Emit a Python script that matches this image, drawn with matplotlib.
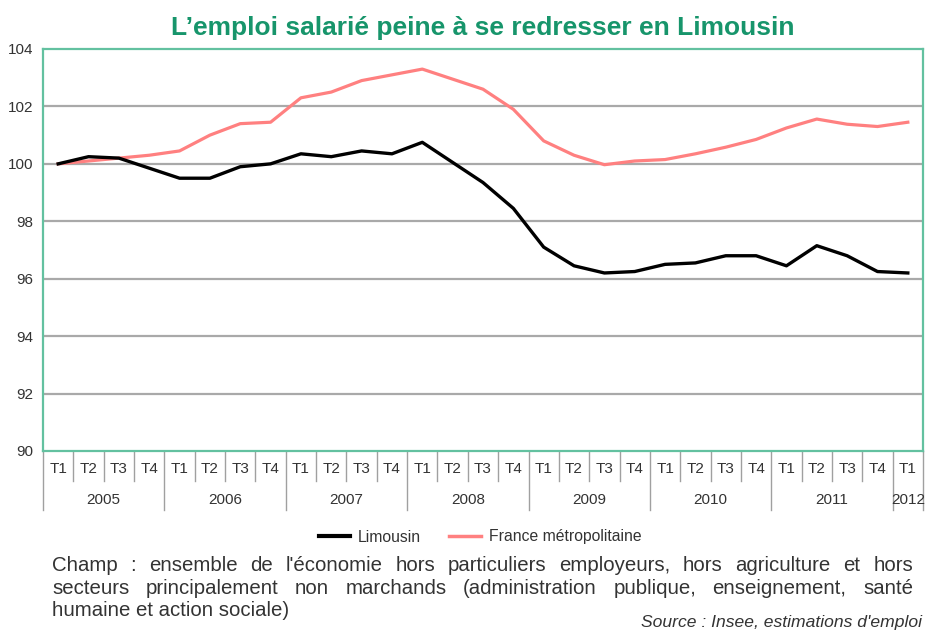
import matplotlib
matplotlib.use("Agg")
import matplotlib.pyplot as plt
from matplotlib.lines import Line2D

plt.rcParams["font.family"] = ["Liberation Sans", "DejaVu Sans"]

quarters = ["T1", "T2", "T3", "T4"] * 7 + ["T1"]
years = ["2005", "2006", "2007", "2008", "2009", "2010", "2011", "2012"]
limousin = [100.0, 100.25, 100.2, 99.85, 99.5, 99.5, 99.9, 100.0,
            100.35, 100.25, 100.45, 100.35, 100.75, 100.05, 99.35, 98.45,
            97.1, 96.45, 96.2, 96.25, 96.5, 96.55, 96.8, 96.8,
            96.45, 97.15, 96.8, 96.25, 96.2]
france = [100.0, 100.1, 100.2, 100.3, 100.45, 101.0, 101.4, 101.45,
          102.3, 102.5, 102.9, 103.1, 103.3, 102.95, 102.6, 101.9,
          100.8, 100.3, 99.97, 100.1, 100.15, 100.35, 100.58, 100.85,
          101.25, 101.56, 101.38, 101.3, 101.45]
yticks = [90, 92, 94, 96, 98, 100, 102, 104]

title = "L\u2019emploi salarié peine à se redresser en Limousin"
note_lines = [
    "Champ : ensemble de l'économie hors particuliers employeurs, hors agriculture et hors",
    "secteurs principalement non marchands (administration publique, enseignement, santé",
    "humaine et action sociale)",
]
source = "Source : Insee, estimations d'emploi"

W, H = 928, 632
green = "#17956b"
spine_col = "#63c1a0"
grid_col = "#a9a9a9"
sep_col = "#a0a0a0"
txt_col = "#333333"

fig = plt.figure(figsize=(W / 100, H / 100), dpi=100)
ax_l, ax_r, ax_t, ax_b = 43, 923, 49, 451
ax = fig.add_axes([ax_l / W, 1 - ax_b / H, (ax_r - ax_l) / W, (ax_b - ax_t) / H])
ah = ax_b - ax_t

x = list(range(len(quarters)))
ax.plot(x, france, color="#ff8080", lw=2.3, solid_joinstyle="round", zorder=3)
ax.plot(x, limousin, color="black", lw=2.4, solid_joinstyle="round", zorder=4)

ax.set_xlim(-0.5, len(quarters) - 0.5)
ax.set_ylim(90, 104)
ax.set_yticks(yticks)
ax.set_yticklabels([str(v) for v in yticks])
for v in yticks[1:-1]:
    ax.axhline(v, color=grid_col, lw=1.6, zorder=1)

for s in ax.spines.values():
    s.set_color(spine_col)
    s.set_linewidth(1.6)

ax.tick_params(axis="y", length=0, pad=7, labelsize=11, labelcolor=txt_col)
ax.set_xticks(x)
ax.set_xticklabels(quarters)
ax.tick_params(axis="x", length=0, pad=8, labelsize=11, labelcolor=txt_col)

# separators under the axis: short ones between quarters, long ones between years
xt = ax.get_xaxis_transform()
for i in range(len(quarters) + 1):
    b = i - 0.5
    long_sep = i % 4 == 0 or i == len(quarters)
    y_end = -(510 - ax_b) / ah if long_sep else -(481 - ax_b) / ah
    ax.plot([b, b], [0, y_end], transform=xt, color=sep_col, lw=1,
            clip_on=False, zorder=0)

for k, yr in enumerate(years):
    first = 4 * k
    last = min(first + 3, len(quarters) - 1)
    ax.text((first + last) / 2, -(500 - ax_b) / ah, yr, transform=xt,
            ha="center", va="center", fontsize=11, color=txt_col)

fig.text(483 / W, 1 - 35 / H, title, ha="center", va="baseline",
         fontsize=19, fontweight="bold", color=green)

handles = [Line2D([], [], color="black", lw=3),
           Line2D([], [], color="#ff8080", lw=2.5)]
fig.legend(handles, ["Limousin", "France métropolitaine"], loc="center",
           bbox_to_anchor=(480 / W, 1 - 537 / H), ncol=2, frameon=False,
           fontsize=11.3, handlelength=2.0, handletextpad=0.5,
           columnspacing=1.8, labelcolor=txt_col)

# justified note paragraph
renderer = fig.canvas.get_renderer()
x0, x1 = 52, 913
baselines = [571, 594, 616]
note_size = 14.7
for k, line in enumerate(note_lines):
    yb = 1 - baselines[k] / H
    if k == len(note_lines) - 1:
        fig.text(x0 / W, yb, line, va="baseline", fontsize=note_size, color=txt_col)
        continue
    words = line.split()
    texts = [fig.text(0, yb, w, va="baseline", fontsize=note_size, color=txt_col)
             for w in words]
    widths = [t.get_window_extent(renderer).width for t in texts]
    gap = (x1 - x0 - sum(widths)) / (len(words) - 1)
    pos = x0
    for t, w in zip(texts, widths):
        t.set_x(pos / W)
        pos += w + gap

fig.text(922 / W, 1 - 627 / H, source, ha="right", va="baseline",
         fontsize=12.6, style="italic", color=txt_col)

fig.savefig("out.png", dpi=100)
